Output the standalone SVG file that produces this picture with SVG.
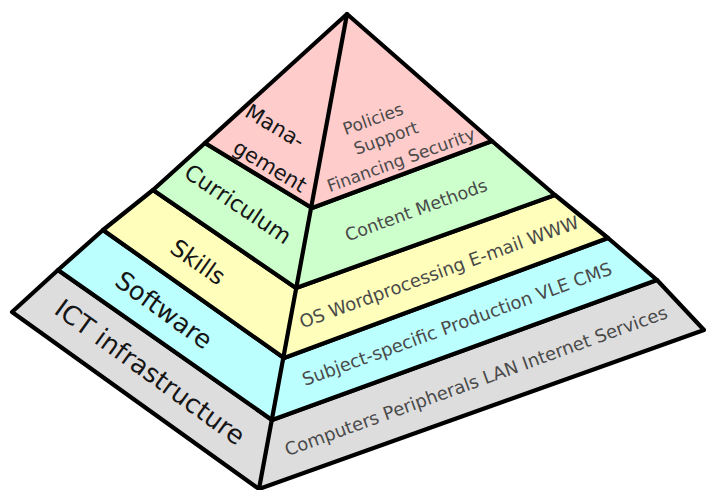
<svg xmlns="http://www.w3.org/2000/svg" width="706" height="490" viewBox="0 0 706 490">
<style>
.face{stroke:#000;stroke-width:4.2;stroke-linejoin:round}
.edge{stroke:#000;stroke-width:4.2;fill:none;stroke-linecap:round}
.lt{font-family:"DejaVu Sans",sans-serif;fill:#151515;text-anchor:middle}
.rt{font-family:"DejaVu Sans",sans-serif;fill:#4a4a4a;text-anchor:middle;font-size:17.5px}
</style>
<rect width="706" height="490" fill="#fff"/>
<g id="ict">
<polygon class="face" fill="#dddddd" points="58,270 272,420 657,280 704,330 259,489 12,312"/>
<text class="lt" font-size="26" dy="0.35em" transform="translate(150,372) rotate(36)">ICT infrastructure</text>
<text class="rt" style="font-size:18px" dy="0.35em" transform="translate(476,381) rotate(-20)">Computers Peripherals LAN Internet Services</text>
</g>
<g id="software">
<polygon class="face" fill="#bbffff" points="103,230 284,358 608,238 657,280 272,420 58,270"/>
<text class="lt" font-size="25.5" dy="0.35em" transform="translate(164,310) rotate(36)">Software</text>
<text class="rt" style="font-size:18px" dy="0.35em" transform="translate(457,324) rotate(-20)">Subject-specific Production VLE CMS</text>
</g>
<g id="skills">
<polygon class="face" fill="#ffffbb" points="153,190 296,288 555,195 608,238 284,358 103,230"/>
<text class="lt" font-size="23.5" dy="0.35em" transform="translate(198,262) rotate(35)">Skills</text>
<text class="rt" style="font-size:18px" dy="0.35em" transform="translate(439,272) rotate(-20)">OS Wordprocessing E-mail WWW</text>
</g>
<g id="curriculum">
<polygon class="face" fill="#ccffcc" points="205,143 312,208 492,141 555,195 296,288 153,190"/>
<text class="lt" font-size="22.5" dy="0.35em" transform="translate(238,204) rotate(34)">Curriculum</text>
<text class="rt" dy="0.35em" transform="translate(416,210) rotate(-20)">Content Methods</text>
</g>
<g id="management">
<polygon class="face" fill="#ffcccc" points="347,14 492,141 312,208 205,143"/>
<text class="lt" font-size="21" dy="0.35em" transform="translate(275,126) rotate(31)">Mana-</text>
<text class="lt" font-size="21" dy="0.35em" transform="translate(270,166) rotate(31)">gement</text>
<text class="rt" style="font-size:17px" dy="0.35em" transform="translate(373,119) rotate(-20)">Policies</text>
<text class="rt" style="font-size:17px" dy="0.35em" transform="translate(386,138) rotate(-20)">Support</text>
<text class="rt" style="font-size:17px" dy="0.35em" transform="translate(401,160) rotate(-20)">Financing Security</text>
</g>
<g id="connectors">
<line class="edge" x1="347" y1="14" x2="259" y2="489"/>
</g>
</svg>
